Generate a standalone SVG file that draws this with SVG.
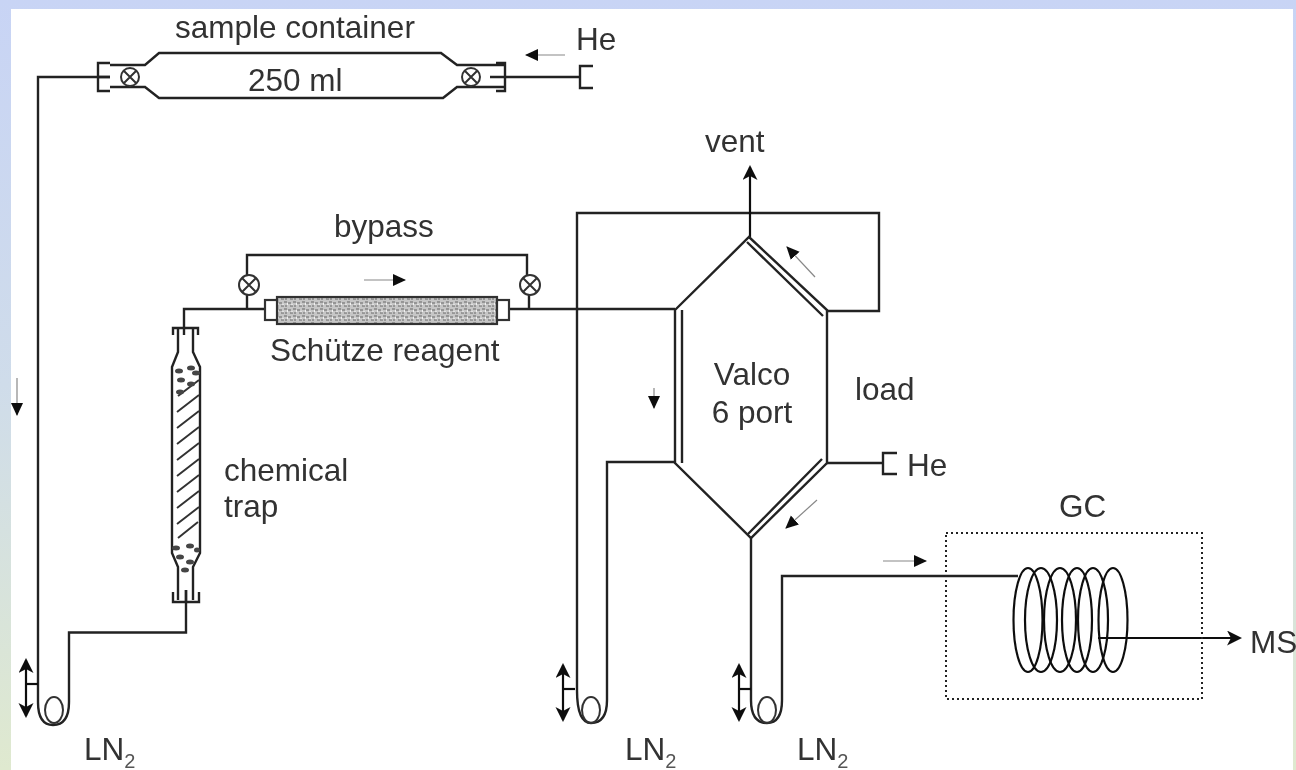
<svg xmlns="http://www.w3.org/2000/svg" width="1296" height="770" viewBox="0 0 1296 770">
<style>
.l{fill:none;stroke:#222;stroke-width:2.4;stroke-linejoin:miter}
.t{fill:none;stroke:#333;stroke-width:2}
.c{fill:none;stroke:#111;stroke-width:2.2}
.g{fill:none;stroke:#888;stroke-width:1.2}
.b{fill:#444;stroke:none}
.d{fill:none;stroke:#222;stroke-width:2;stroke-dasharray:2 3}
text{font-family:"Liberation Sans",Arial,sans-serif;font-size:31.5px;fill:#333}
.s{font-size:20px;fill:#555}
</style>
<defs>
<linearGradient id="bg" x1="0" y1="0" x2="0" y2="1"><stop offset="0" stop-color="#c8d4f5"/><stop offset="0.5" stop-color="#cfdcea"/><stop offset="1" stop-color="#dfe9cf"/></linearGradient>
<pattern id="grain" width="9" height="7" patternUnits="userSpaceOnUse"><rect width="9" height="7" fill="#c6c6c6"/><path d="M0 2h3M5 1h3M2 5h3M6 5h2" stroke="#666" stroke-width="1.2"/><path d="M3.5 3.5h1M8 3h1" stroke="#fff" stroke-width="1.4"/></pattern>
<filter id="soft" x="-2%" y="-2%" width="104%" height="104%"><feGaussianBlur stdDeviation="0.5"/></filter>
<marker id="open" markerUnits="userSpaceOnUse" markerWidth="16" markerHeight="16" refX="13" refY="7.5" orient="auto-start-reverse"><path d="M0 0L15 7.500L0 15L4 7.500Z" fill="#111"/></marker>
<marker id="small" markerUnits="userSpaceOnUse" markerWidth="14" markerHeight="14" refX="12" refY="6" orient="auto"><path d="M0 0L13 6L0 12Z" fill="#111"/></marker>
</defs>
<rect width="1296" height="770" fill="url(#bg)"/>
<rect x="11" y="9" width="1282" height="761" fill="#fff"/>
<g filter="url(#soft)">
<g id="connectors">
<path class="l" d="M110 77H38V702Q38 725 53 725Q69 725 69 702V632.500H186V590"/>
<path class="l" d="M184 335V309H265M247 309V295M247 275V255H527V275M529 295V309M509 309H675"/>
<path class="l" d="M577 690V213H879V311H827M577 690Q577 723 591 723Q607 723 607 700V462H675"/>
<path class="l" d="M751 538V700Q751 723 767 723Q782 723 782 700V576H1018"/>
<path class="c" d="M750 237V167" marker-end="url(#open)"/>
<path class="l" d="M505 77H580M827 463H883"/>
<path class="c" d="M1098 638H1240" marker-end="url(#open)"/>
<path class="c" d="M26 660V716" marker-start="url(#open)" marker-end="url(#open)"/>
<path class="c" d="M26 684H38"/>
<path class="c" d="M563 665V720" marker-start="url(#open)" marker-end="url(#open)"/>
<path class="c" d="M563 689H575"/>
<path class="c" d="M739 665V720" marker-start="url(#open)" marker-end="url(#open)"/>
<path class="c" d="M739 689H751"/>
<path class="g" d="M565 55H526" marker-end="url(#small)"/>
<path class="g" d="M364 280H405" marker-end="url(#small)"/>
<path class="g" d="M17 378V415" marker-end="url(#small)"/>
<path class="g" d="M654 388V408" marker-end="url(#small)"/>
<path class="g" d="M815 277L787 247" marker-end="url(#small)"/>
<path class="g" d="M817 500L786 528" marker-end="url(#small)"/>
<path class="g" d="M883 561H926" marker-end="url(#small)"/>
</g>
<g id="sample-container">
<path class="l" d="M110 65H145L159 53H441L457 65H505M110 87H145L159 98H443L457 87H505"/>
<path class="l" d="M110 63H98V91H110M496 63H505V91H496"/>
<path class="l" d="M98 77H110M490 77H505"/>
<circle class="t" cx="130" cy="77" r="9"/><path class="t" d="M124 71L136 83M136 71L124 83"/>
<circle class="t" cx="471" cy="77" r="9"/><path class="t" d="M465 71L477 83M477 71L465 83"/>
<text x="175" y="38">sample container</text>
<text x="248" y="91">250 ml</text>
</g>
<g id="he-inlet-1">
<path class="l" d="M593 66H580V88H593"/>
<text x="576" y="50">He</text>
</g>
<g id="bypass">
<circle class="t" cx="249" cy="285" r="10"/><path class="t" d="M242 278L256 292M256 278L242 292"/>
<circle class="t" cx="530" cy="285" r="10"/><path class="t" d="M523 278L537 292M537 278L523 292"/>
<text x="334" y="237">bypass</text>
</g>
<g id="schutze-reagent">
<rect x="277" y="297" width="220" height="27" fill="url(#grain)" stroke="#333" stroke-width="2.200"/>
<rect x="265" y="300" width="12" height="20" fill="#fff" stroke="#333" stroke-width="2.200"/>
<rect x="497" y="300" width="12" height="20" fill="#fff" stroke="#333" stroke-width="2.200"/>
<text x="270" y="361">Schütze reagent</text>
</g>
<g id="chemical-trap">
<path class="l" d="M178 328V352L172 367V553L178 567V600M193 328V352L200 367V553L193 567V600"/>
<path class="l" d="M173 335V328H198V335M173 592V602H199V592M186 590V602"/>
<path class="t" d="M178 396L199 380M177 412L199 395M177 428L199 411M177 444L199 427M177 460L199 443M177 476L199 459M177 492L199 475M177 508L199 491M177 524L199 507M178 538L198 522"/>
<g class="b"><ellipse cx="179" cy="371" rx="4" ry="2.500"/><ellipse cx="191" cy="368" rx="4" ry="2.500"/><ellipse cx="196" cy="373" rx="4" ry="2.500"/><ellipse cx="181" cy="380" rx="4" ry="2.500"/><ellipse cx="191" cy="384" rx="4" ry="2.500"/><ellipse cx="180" cy="392" rx="4" ry="2.500"/>
<ellipse cx="176" cy="548" rx="4" ry="2.500"/><ellipse cx="190" cy="546" rx="4" ry="2.500"/><ellipse cx="197" cy="550" rx="3" ry="2.500"/><ellipse cx="180" cy="557" rx="4" ry="2.500"/><ellipse cx="190" cy="562" rx="4" ry="2.500"/><ellipse cx="185" cy="570" rx="4" ry="2.500"/></g>
<text x="224" y="481">chemical</text>
<text x="224" y="517">trap</text>
</g>
<g id="valco-valve">
<path class="l" d="M675 310L749 237L827 310V463L751 538L675 463V310"/>
<path class="l" d="M682 310V463M747 242L823 316M822 459L748 534"/>
<text x="752" y="385" text-anchor="middle">Valco</text>
<text x="752" y="423" text-anchor="middle">6 port</text>
<text x="855" y="400">load</text>
<text x="705" y="152">vent</text>
</g>
<g id="he-inlet-2">
<path class="l" d="M897 453H883V474H897"/>
<text x="907" y="476">He</text>
</g>
<g id="gc">
<rect class="d" x="946" y="533" width="256" height="166"/>
<ellipse class="c" cx="1028" cy="620" rx="14.500" ry="52"/><ellipse class="c" cx="1041" cy="620" rx="16" ry="52"/><ellipse class="c" cx="1060" cy="620" rx="16" ry="52"/><ellipse class="c" cx="1077" cy="620" rx="15" ry="52"/><ellipse class="c" cx="1093" cy="620" rx="15" ry="52"/><ellipse class="c" cx="1113" cy="620" rx="14.500" ry="52"/>
<text x="1059" y="517">GC</text>
<text x="1250" y="653">MS</text>
</g>
<g id="cold-trap-1">
<ellipse class="t" cx="54" cy="710" rx="9" ry="13"/>
<text x="84" y="760">LN<tspan class="s" dy="8">2</tspan></text>
</g>
<g id="cold-trap-2">
<ellipse class="t" cx="591" cy="710" rx="9" ry="13"/>
<text x="625" y="760">LN<tspan class="s" dy="8">2</tspan></text>
</g>
<g id="cold-trap-3">
<ellipse class="t" cx="767" cy="710" rx="9" ry="13"/>
<text x="797" y="760">LN<tspan class="s" dy="8">2</tspan></text>
</g>
</g>
</svg>
